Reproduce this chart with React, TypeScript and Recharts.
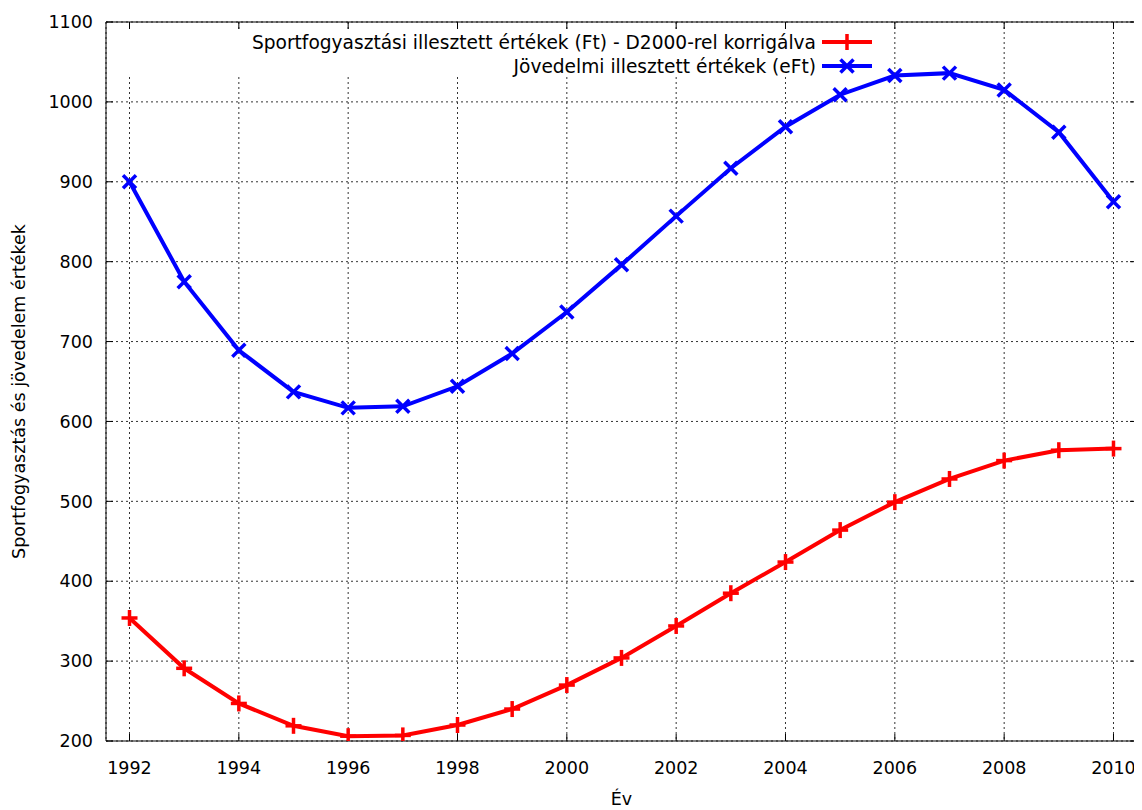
import React from 'react';
import { LineChart, Line, XAxis, YAxis, CartesianGrid, Legend } from 'recharts';

const years = [1992, 1993, 1994, 1995, 1996, 1997, 1998, 1999, 2000, 2001, 2002, 2003, 2004, 2005, 2006, 2007, 2008, 2009, 2010];
const sportValues = [354, 291, 247, 219, 206, 207, 220, 240, 270, 304, 344, 385, 424, 464, 499, 528, 551, 564, 566];
const incomeValues = [900, 775, 689, 637, 617, 619, 644, 685, 737, 796, 857, 917, 969, 1009, 1033, 1036, 1015, 962, 875];
const xTicks = [1992, 1994, 1996, 1998, 2000, 2002, 2004, 2006, 2008, 2010];
const yTicks = [200, 300, 400, 500, 600, 700, 800, 900, 1000, 1100];
const seriesNames = [
  'Sportfogyasztási illesztett értékek (Ft) - D2000-rel korrigálva',
  'Jövedelmi illesztett értékek (eFt)',
];
const xTitle = 'Év';
const yTitle = 'Sportfogyasztás és jövedelem értékek';

const data = years.map((year, i) => ({ year, sport: sportValues[i], income: incomeValues[i] }));

const FONT = '"DejaVu Sans", Verdana, sans-serif';
const FS = 17.5;
const LEGEND_FS = 18.6;
const RED = '#ff0000';
const BLUE = '#0000ff';

const plusShape = (cx: number, cy: number, color: string, k?: any) => (
  <g key={k}>
    <line x1={cx - 8} y1={cy} x2={cx + 8} y2={cy} stroke={color} strokeWidth={3.5} />
    <line x1={cx} y1={cy - 8} x2={cx} y2={cy + 8} stroke={color} strokeWidth={3.5} />
  </g>
);
const crossShape = (cx: number, cy: number, color: string, k?: any) => (
  <g key={k}>
    <line x1={cx - 6.5} y1={cy - 6.5} x2={cx + 6.5} y2={cy + 6.5} stroke={color} strokeWidth={3.5} />
    <line x1={cx - 6.5} y1={cy + 6.5} x2={cx + 6.5} y2={cy - 6.5} stroke={color} strokeWidth={3.5} />
  </g>
);

const PlusDot = (props: any) => {
  const { cx, cy, index } = props;
  if (cx == null || cy == null) return <g key={`p${index}`} />;
  return plusShape(cx, cy, RED, `p${index}`);
};
const CrossDot = (props: any) => {
  const { cx, cy, index } = props;
  if (cx == null || cy == null) return <g key={`c${index}`} />;
  return crossShape(cx, cy, BLUE, `c${index}`);
};

const renderNothing = () => <g />;

const renderLegend = () => (
  <div
    style={{
      background: '#fff',
      width: 773,
      height: 45,
      boxSizing: 'border-box',
      paddingRight: 8,
      fontFamily: FONT,
      fontSize: LEGEND_FS,
      color: '#000',
    }}
  >
    {seriesNames.map((name, i) => (
      <div
        key={name}
        style={{ display: 'flex', justifyContent: 'flex-end', alignItems: 'center', height: 24, whiteSpace: 'nowrap' }}
      >
        <span>{name}</span>
        <svg width={56} height={24} style={{ display: 'block' }}>
          <line x1={6} y1={12} x2={56} y2={12} stroke={i === 0 ? RED : BLUE} strokeWidth={4} />
          {i === 0 ? plusShape(31, 12, RED) : crossShape(31, 12, BLUE)}
        </svg>
      </div>
    ))}
  </div>
);

const XTitle = (props: any) => {
  const vb = props.viewBox || {};
  return (
    <text
      x={vb.x + vb.width / 2}
      y={vb.y + 64}
      textAnchor="middle"
      fontFamily={FONT}
      fontSize={FS}
      fill="#000"
    >
      {xTitle}
    </text>
  );
};

const YTitle = (props: any) => {
  const vb = props.viewBox || {};
  const x = vb.x + 17;
  const y = vb.y + vb.height / 2 + 10;
  return (
    <text
      x={x}
      y={y}
      transform={`rotate(-90, ${x}, ${y})`}
      textAnchor="middle"
      fontFamily={FONT}
      fontSize={FS}
      fill="#000"
    >
      {yTitle}
    </text>
  );
};

const tickStyle = { fill: '#000', fontSize: FS, fontFamily: FONT };

export default function App() {
  return (
    <div style={{ width: 1134, height: 802, fontFamily: FONT }}>
      <LineChart
        width={1134}
        height={802}
        data={data}
        margin={{ top: 13, right: 4, bottom: 0, left: 0 }}
      >
        <CartesianGrid stroke="#333" strokeDasharray="2 3" strokeWidth={1} />
        <XAxis
          dataKey="year"
          type="number"
          domain={[1991.57, 2010.43]}
          ticks={xTicks}
          interval={0}
          allowDataOverflow
          height={69}
          tickSize={-7}
          tickMargin={28}
          stroke="#000"
          tick={tickStyle}
          label={<XTitle />}
        />
        <XAxis
          xAxisId="top"
          orientation="top"
          dataKey="year"
          type="number"
          domain={[1991.57, 2010.43]}
          ticks={xTicks}
          interval={0}
          allowDataOverflow
          height={1}
          tickSize={-7}
          stroke="#000"
          tick={renderNothing}
        />
        <YAxis
          type="number"
          domain={[200, 1100]}
          ticks={yTicks}
          interval={0}
          allowDataOverflow
          width={98}
          tickSize={-7}
          tickMargin={20}
          stroke="#000"
          tick={tickStyle}
          label={<YTitle />}
        />
        <YAxis
          yAxisId="right"
          orientation="right"
          type="number"
          domain={[200, 1100]}
          ticks={yTicks}
          interval={0}
          allowDataOverflow
          width={1}
          tickSize={-7}
          stroke="#000"
          tick={renderNothing}
        />
        <Legend
          content={renderLegend}
          layout="vertical"
          align="center"
          verticalAlign="middle"
          wrapperStyle={{ top: 22, left: 99, width: 773, height: 45 }}
        />
        <Line
          type="linear"
          dataKey="sport"
          name={seriesNames[0]}
          stroke={RED}
          strokeWidth={4}
          dot={PlusDot}
          activeDot={false}
          isAnimationActive={false}
        />
        <Line
          type="linear"
          dataKey="income"
          name={seriesNames[1]}
          stroke={BLUE}
          strokeWidth={4}
          dot={CrossDot}
          activeDot={false}
          isAnimationActive={false}
        />
      </LineChart>
    </div>
  );
}
